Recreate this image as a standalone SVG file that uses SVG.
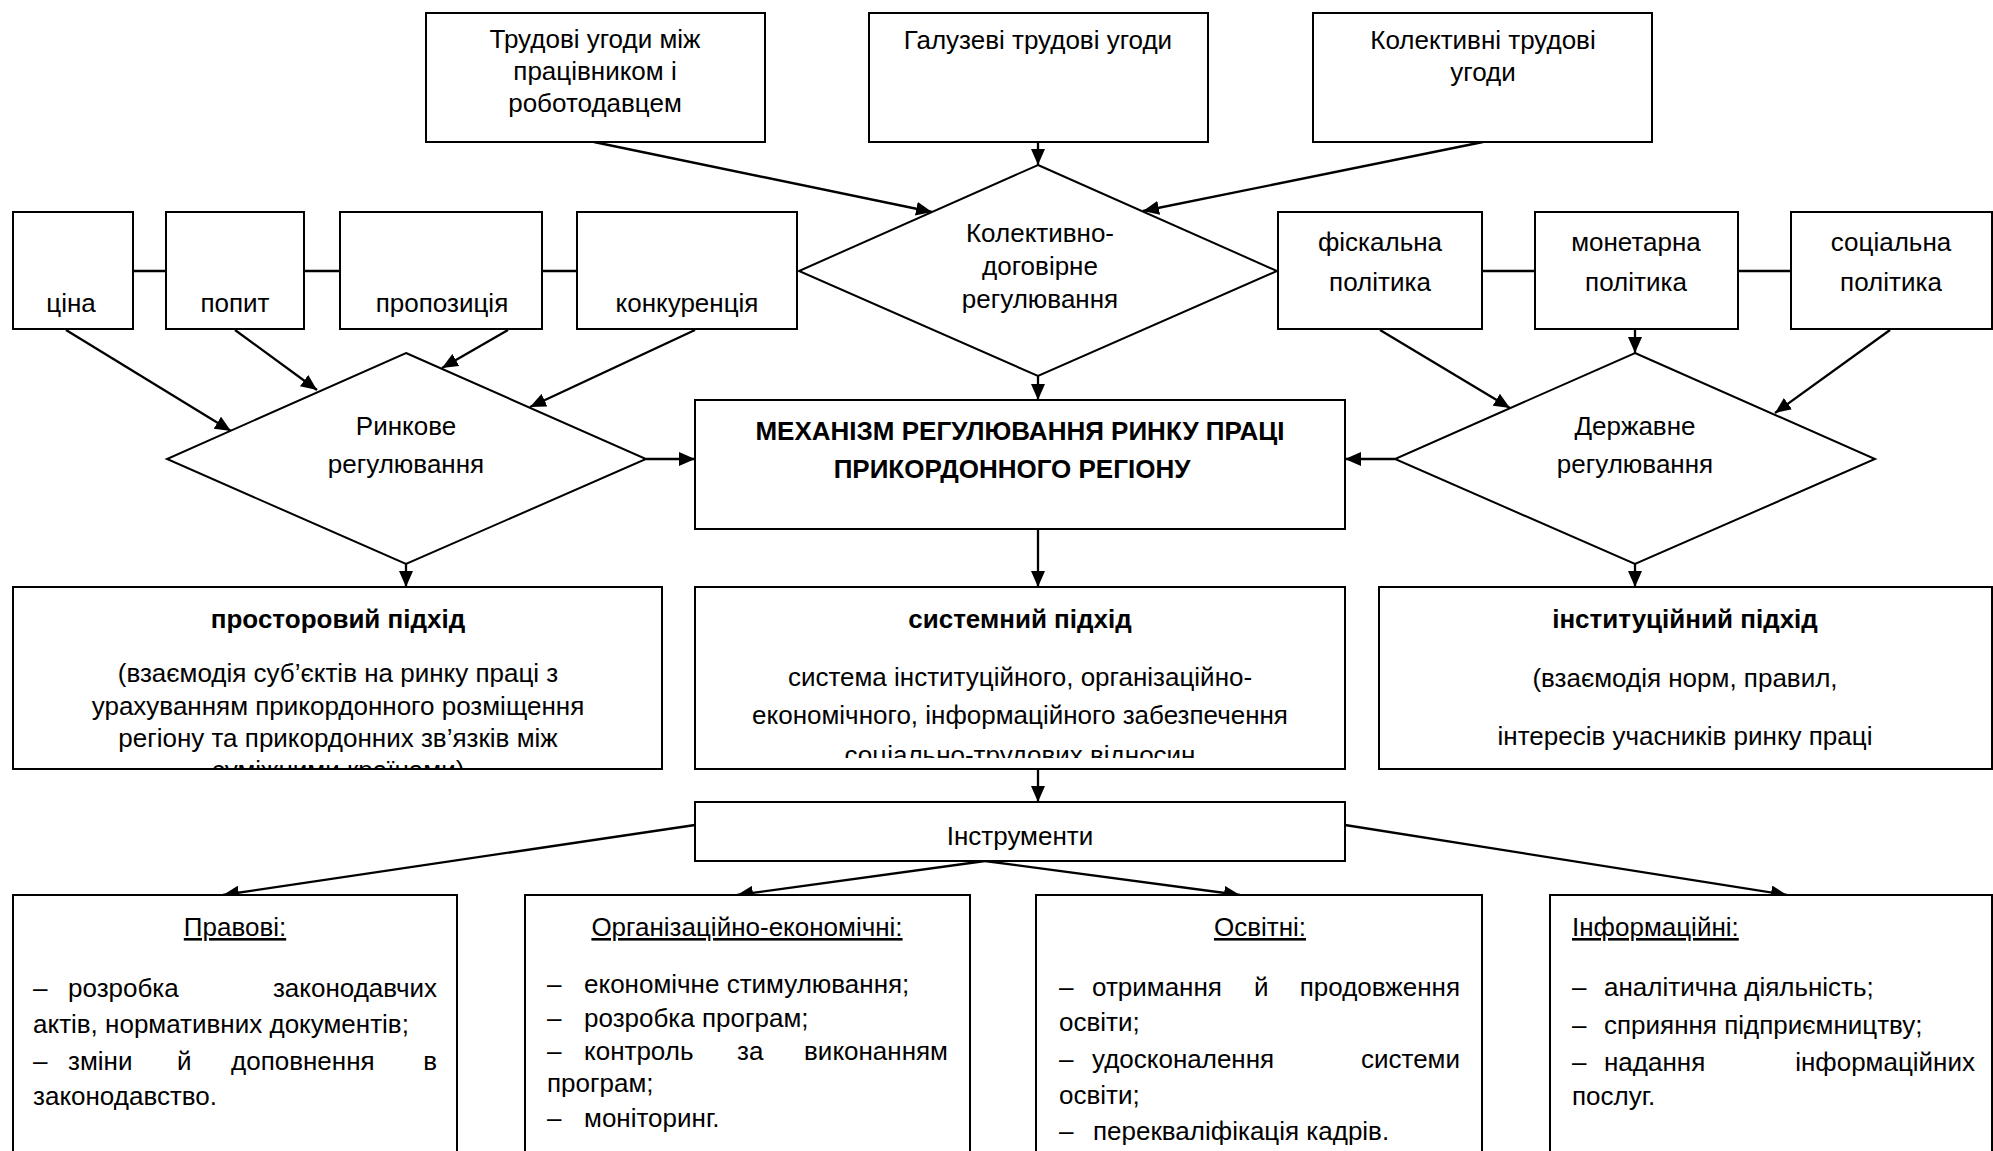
<svg xmlns="http://www.w3.org/2000/svg" width="1993" height="1151" viewBox="0 0 1993 1151">
<style>
text{font-family:"Liberation Sans",Arial,sans-serif;font-size:26px;fill:#000}
.c{text-anchor:middle}
.e{text-anchor:end}
.b{font-weight:bold}
.u{text-decoration:underline}
.box{fill:#fff;stroke:#000;stroke-width:2}
.ln{fill:none;stroke:#000;stroke-width:2.3}
.ar{fill:none;stroke:#000;stroke-width:2.3;marker-end:url(#ah)}
</style>
<defs>
<marker id="ah" viewBox="0 0 16 14" refX="16" refY="7" markerWidth="16" markerHeight="14" markerUnits="userSpaceOnUse" orient="auto">
<path d="M0,0 L16,7 L0,14 Z" fill="#000"/>
</marker>
<clipPath id="clipP"><rect x="12" y="587" width="650" height="181"/></clipPath>
<clipPath id="clipS"><rect x="695" y="587" width="650" height="171"/></clipPath>
</defs>
<rect width="1993" height="1151" fill="#fff"/>

<g id="connectors">
<line class="ln" x1="133" y1="271" x2="166" y2="271"/>
<line class="ln" x1="304" y1="271" x2="340" y2="271"/>
<line class="ln" x1="542" y1="271" x2="577" y2="271"/>
<line class="ln" x1="1482" y1="271" x2="1535" y2="271"/>
<line class="ln" x1="1738" y1="271" x2="1791" y2="271"/>
<line class="ar" x1="594" y1="142" x2="932" y2="212"/>
<line class="ar" x1="1038" y1="142" x2="1038" y2="165"/>
<line class="ar" x1="1483" y1="142" x2="1143" y2="211"/>
<line class="ar" x1="1038" y1="376" x2="1038" y2="400"/>
<line class="ar" x1="66" y1="330" x2="231" y2="431"/>
<line class="ar" x1="235" y1="330" x2="317" y2="390"/>
<line class="ar" x1="508" y1="330" x2="442" y2="368"/>
<line class="ar" x1="695" y1="330" x2="530" y2="407"/>
<line class="ar" x1="646" y1="459" x2="695" y2="459"/>
<line class="ar" x1="1395" y1="459" x2="1345" y2="459"/>
<line class="ar" x1="1380" y1="330" x2="1510" y2="408"/>
<line class="ar" x1="1635" y1="330" x2="1635" y2="353"/>
<line class="ar" x1="1890" y1="330" x2="1775" y2="413"/>
<line class="ar" x1="406" y1="564" x2="406" y2="587"/>
<line class="ar" x1="1038" y1="529" x2="1038" y2="587"/>
<line class="ar" x1="1635" y1="564" x2="1635" y2="587"/>
<line class="ar" x1="1038" y1="769" x2="1038" y2="802"/>
<line class="ar" x1="695" y1="825" x2="223" y2="895"/>
<line class="ar" x1="985" y1="861" x2="737" y2="895"/>
<line class="ar" x1="985" y1="861" x2="1240" y2="895"/>
<line class="ar" x1="1345" y1="825" x2="1787" y2="895"/>
</g>

<g id="n-trudovi">
<rect class="box" x="426" y="13" width="339" height="129"/>
<text class="c" x="595" y="48">Трудові угоди між</text>
<text class="c" x="595" y="80">працівником і</text>
<text class="c" x="595" y="112">роботодавцем</text>
</g>
<g id="n-haluzevi">
<rect class="box" x="869" y="13" width="339" height="129"/>
<text class="c" x="1038" y="49">Галузеві трудові угоди</text>
</g>
<g id="n-kolektyvni">
<rect class="box" x="1313" y="13" width="339" height="129"/>
<text class="c" x="1483" y="49">Колективні трудові</text>
<text class="c" x="1483" y="81">угоди</text>
</g>

<g id="n-kolekt-dog">
<polygon class="box" points="1038,165 1277,271 1038,376 799,271"/>
<text class="c" x="1040" y="242">Колективно-</text>
<text class="c" x="1040" y="275">договірне</text>
<text class="c" x="1040" y="308">регулювання</text>
</g>

<g id="n-tsina"><rect class="box" x="13" y="212" width="120" height="117"/><text class="c" x="71" y="312">ціна</text></g>
<g id="n-popyt"><rect class="box" x="166" y="212" width="138" height="117"/><text class="c" x="235" y="312">попит</text></g>
<g id="n-propozytsia"><rect class="box" x="340" y="212" width="202" height="117"/><text class="c" x="442" y="312">пропозиція</text></g>
<g id="n-konkurentsia"><rect class="box" x="577" y="212" width="220" height="117"/><text class="c" x="687" y="312">конкуренція</text></g>

<g id="n-fiskalna"><rect class="box" x="1278" y="212" width="204" height="117"/><text class="c" x="1380" y="251">фіскальна</text><text class="c" x="1380" y="291">політика</text></g>
<g id="n-monetarna"><rect class="box" x="1535" y="212" width="203" height="117"/><text class="c" x="1636" y="251">монетарна</text><text class="c" x="1636" y="291">політика</text></g>
<g id="n-sotsialna"><rect class="box" x="1791" y="212" width="201" height="117"/><text class="c" x="1891" y="251">соціальна</text><text class="c" x="1891" y="291">політика</text></g>

<g id="n-rynkove">
<polygon class="box" points="406,353 646,459 406,564 167,459"/>
<text class="c" x="406" y="435">Ринкове</text>
<text class="c" x="406" y="473">регулювання</text>
</g>
<g id="n-derzhavne">
<polygon class="box" points="1635,353 1875,459 1635,564 1395,459"/>
<text class="c" x="1635" y="435">Державне</text>
<text class="c" x="1635" y="473">регулювання</text>
</g>

<g id="n-mechanism">
<rect class="box" x="695" y="400" width="650" height="129"/>
<text class="c b" x="1020" y="440">МЕХАНІЗМ РЕГУЛЮВАННЯ РИНКУ ПРАЦІ</text>
<text class="c b" x="1012" y="478">ПРИКОРДОННОГО РЕГІОНУ</text>
</g>

<g id="n-prostorovyi">
<rect class="box" x="13" y="587" width="649" height="182"/>
<text class="c b" x="338" y="628">просторовий підхід</text>
<g clip-path="url(#clipP)">
<text class="c" x="338" y="682">(взаємодія суб’єктів на ринку праці з</text>
<text class="c" x="338" y="715">урахуванням прикордонного розміщення</text>
<text class="c" x="338" y="747">регіону та прикордонних зв’язків між</text>
<text class="c" x="338" y="779">суміжними країнами)</text>
</g>
</g>
<g id="n-systemnyi">
<rect class="box" x="695" y="587" width="650" height="182"/>
<text class="c b" x="1020" y="628">системний підхід</text>
<g clip-path="url(#clipS)">
<text class="c" x="1020" y="686">система інституційного, організаційно-</text>
<text class="c" x="1020" y="724">економічного, інформаційного забезпечення</text>
<text class="c" x="1020" y="764">соціально-трудових відносин</text>
</g>
</g>
<g id="n-instytutsiinyi">
<rect class="box" x="1379" y="587" width="613" height="182"/>
<text class="c b" x="1685" y="628">інституційний підхід</text>
<text class="c" x="1685" y="687">(взаємодія норм, правил,</text>
<text class="c" x="1685" y="745">інтересів учасників ринку праці</text>
</g>

<g id="n-instrumenty">
<rect class="box" x="695" y="802" width="650" height="59"/>
<text class="c" x="1020" y="845">Інструменти</text>
</g>

<g id="n-pravovi">
<rect class="box" x="13" y="895" width="444" height="270"/>
<text class="c u" x="235" y="936">Правові:</text>
<text x="33" y="997">–</text><text x="68" y="997">розробка</text><text class="e" x="437" y="997">законодавчих</text>
<text x="33" y="1033">актів, нормативних документів;</text>
<text x="33" y="1070">–</text><text x="68" y="1070">зміни</text><text x="177" y="1070">й</text><text x="231" y="1070">доповнення</text><text class="e" x="437" y="1070">в</text>
<text x="33" y="1105">законодавство.</text>
</g>

<g id="n-orgekon">
<rect class="box" x="525" y="895" width="445" height="270"/>
<text class="c u" x="747" y="936">Організаційно-економічні:</text>
<text x="547" y="993">–</text><text x="584" y="993">економічне стимулювання;</text>
<text x="547" y="1027">–</text><text x="584" y="1027">розробка програм;</text>
<text x="547" y="1060">–</text><text x="584" y="1060">контроль</text><text x="737" y="1060">за</text><text class="e" x="948" y="1060">виконанням</text>
<text x="547" y="1092">програм;</text>
<text x="547" y="1127">–</text><text x="584" y="1127">моніторинг.</text>
</g>

<g id="n-osvitni">
<rect class="box" x="1036" y="895" width="446" height="270"/>
<text class="c u" x="1260" y="936">Освітні:</text>
<text x="1059" y="996">–</text><text x="1092" y="996">отримання</text><text x="1254" y="996">й</text><text class="e" x="1460" y="996">продовження</text>
<text x="1059" y="1031">освіти;</text>
<text x="1059" y="1068">–</text><text x="1092" y="1068">удосконалення</text><text class="e" x="1460" y="1068">системи</text>
<text x="1059" y="1104">освіти;</text>
<text x="1059" y="1140">–</text><text x="1093" y="1140">перекваліфікація кадрів.</text>
</g>

<g id="n-informatsiini">
<rect class="box" x="1550" y="895" width="442" height="270"/>
<text class="u" x="1572" y="936">Інформаційні:</text>
<text x="1572" y="996">–</text><text x="1604" y="996">аналітична діяльність;</text>
<text x="1572" y="1034">–</text><text x="1604" y="1034">сприяння підприємництву;</text>
<text x="1572" y="1071">–</text><text x="1604" y="1071">надання</text><text class="e" x="1975" y="1071">інформаційних</text>
<text x="1572" y="1105">послуг.</text>
</g>
</svg>
